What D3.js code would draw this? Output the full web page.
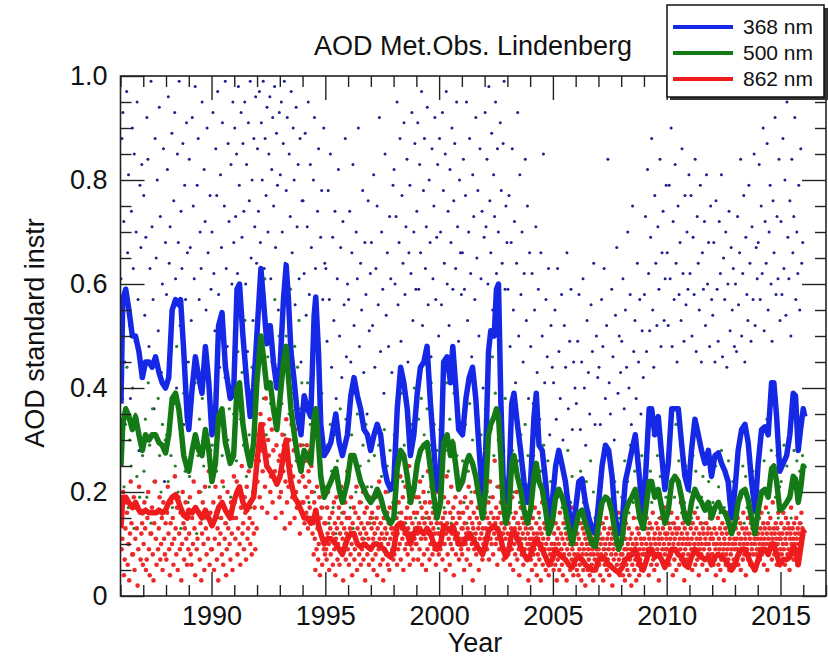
<!DOCTYPE html>
<html>
<head>
<meta charset="utf-8">
<script src="https://cdn.jsdelivr.net/npm/d3@7"></script>
<style>
  body { margin: 0; background: #fff; }
  svg { display: block; font-family: "Liberation Sans", Arial, Helvetica, sans-serif; }
</style>
</head>
<body>
<svg id="chart" width="828" height="658"></svg>
<script>
// smoothed series (year, AOD)
const lineYears = [
  1986.02,1986.10,1986.23,1986.37,1986.52,1986.66,1986.81,1986.96,1987.10,1987.25,1987.39,1987.54,1987.69,1987.83,1987.98,
  1988.12,1988.27,1988.42,1988.56,1988.64,1988.78,1988.93,1989.00,1989.15,1989.29,1989.44,1989.58,1989.73,1989.88,1990.02,
  1990.17,1990.31,1990.46,1990.61,1990.82,1990.97,1991.12,1991.23,1991.38,1991.55,1991.70,1991.85,1991.99,1992.17,1992.28,
  1992.43,1992.58,1992.72,1992.87,1993.01,1993.16,1993.28,1993.38,
  1993.49,1993.64,1993.78,1993.93,1994.07,1994.22,1994.36,1994.51,1994.58,1994.70,1994.80,1994.95,1995.09,1995.24,1995.46,
  1995.61,1995.75,1995.97,1996.12,1996.26,1996.41,1996.55,1996.70,1996.85,1996.99,1997.14,1997.28,1997.43,1997.58,1997.72,
  1997.87,1998.01,1998.16,1998.31,1998.45,1998.60,1998.74,1998.89,1999.04,1999.18,1999.33,1999.47,1999.62,1999.77,1999.91,
  2000.06,2000.20,2000.35,2000.50,2000.60,2000.72,2000.86,
  2001.03,2001.18,2001.32,2001.47,2001.61,2001.76,2001.91,2002.05,2002.17,2002.27,2002.42,2002.52,2002.61,2002.71,2002.81,
  2002.93,2003.07,2003.19,2003.29,2003.44,2003.58,2003.73,2003.88,2004.02,2004.17,2004.27,2004.39,2004.53,2004.68,2004.82,
  2004.97,2005.12,2005.26,2005.41,2005.55,2005.70,2005.85,2005.99,2006.14,2006.28,2006.43,2006.58,2006.72,2006.87,2007.01,
  2007.16,2007.31,2007.45,2007.60,2007.74,2007.89,2008.04,2008.18,2008.33,2008.47,2008.62,
  2008.82,2008.97,2009.12,2009.23,2009.34,2009.48,2009.63,2009.78,2009.92,2010.07,2010.22,2010.36,2010.51,2010.65,2010.80,
  2010.95,2011.09,2011.24,2011.39,2011.53,2011.68,2011.83,2011.97,2012.12,2012.27,2012.41,2012.56,2012.70,2012.85,2013.00,
  2013.14,2013.29,2013.44,2013.58,2013.73,2013.88,2014.02,2014.17,2014.31,2014.46,2014.61,2014.71,2014.83,2014.97,2015.12,
  2015.27,2015.41,2015.56,2015.66,2015.78,2015.88,2016.00,2016.07
];
const aod368 = [
  .37,.57,.59,.55,.50,.50,.47,.42,.45,.45,.44,.46,.43,.41,.40,.42,.55,.57,.56,.57,.47,.345,.32,.40,.46,.42,.39,.48,.41,.31,
  .345,.52,.545,.44,.38,.39,.59,.60,.50,.41,.345,.40,.50,.63,.57,.485,.52,.45,.40,.44,.57,.636,.57,
  .47,.41,.345,.31,.385,.36,.345,.54,.575,.47,.33,.27,.28,.295,.35,.295,.27,.31,.385,.42,.385,.36,.32,.31,.28,.31,.33,.31,
  .25,.22,.205,.22,.36,.44,.41,.36,.27,.31,.39,.44,.45,.48,.37,.28,.205,.24,.45,.46,.41,.48,.41,.32,
  .31,.38,.42,.44,.38,.28,.19,.28,.47,.51,.50,.59,.60,.38,.23,.18,.22,.37,.39,.33,.28,.22,.18,.22,.345,.39,.29,.28,.22,.15,
  .18,.25,.28,.25,.22,.165,.13,.165,.22,.225,.18,.15,.13,.12,.18,.25,.29,.28,.23,.15,.12,.14,.22,.25,.28,.31,
  .22,.15,.27,.36,.36,.31,.345,.27,.205,.255,.36,.36,.36,.295,.23,.205,.28,.34,.31,.28,.255,.28,.23,.27,.275,.255,.24,.22,
  .15,.205,.28,.32,.33,.295,.22,.165,.255,.32,.325,.31,.41,.41,.345,.24,.255,.27,.31,.39,.385,.28,.32,.36,.345
];
const aod500 = [
  .25,.33,.36,.345,.32,.345,.31,.28,.31,.30,.31,.31,.295,.29,.275,.31,.38,.39,.36,.33,.27,.245,.24,.28,.31,.28,.27,.32,.28,.22,
  .255,.345,.36,.295,.255,.27,.40,.41,.33,.28,.25,.295,.41,.50,.46,.40,.41,.36,.32,.38,.45,.48,.42,
  .36,.31,.27,.24,.28,.27,.255,.345,.36,.295,.23,.19,.205,.22,.245,.205,.18,.22,.27,.27,.245,.22,.205,.19,.18,.19,.205,.19,
  .165,.15,.14,.15,.245,.28,.27,.23,.18,.205,.255,.28,.29,.295,.245,.19,.15,.18,.295,.31,.27,.295,.255,.205,
  .22,.255,.27,.255,.23,.19,.15,.205,.31,.33,.345,.36,.345,.27,.18,.14,.165,.255,.27,.23,.205,.165,.14,.165,.23,.255,.22,.205,
  .165,.12,.14,.19,.205,.19,.165,.13,.10,.13,.16,.165,.14,.12,.10,.095,.14,.18,.19,.185,.16,.12,.09,.11,.16,.18,.19,.205,
  .15,.13,.18,.22,.22,.19,.205,.17,.14,.165,.22,.23,.22,.19,.15,.14,.18,.205,.19,.18,.165,.18,.15,.17,.18,.165,.16,.145,
  .12,.14,.18,.20,.205,.185,.15,.12,.165,.20,.205,.19,.245,.25,.22,.165,.17,.18,.19,.23,.225,.18,.205,.25,.245
];
const aod862 = [
  .13,.19,.19,.18,.17,.18,.165,.16,.165,.16,.16,.16,.165,.16,.165,.18,.19,.195,.18,.17,.155,.15,.165,.16,.17,.16,.15,.165,.15,.135,
  .15,.17,.18,.165,.15,.18,.20,.21,.18,.165,.18,.19,.255,.33,.295,.25,.24,.23,.215,.23,.27,.30,.255,
  .22,.19,.18,.165,.15,.15,.14,.15,.165,.135,.12,.10,.11,.11,.10,.09,.08,.11,.12,.12,.10,.095,.10,.095,.09,.10,.10,.095,
  .09,.08,.075,.09,.135,.14,.13,.12,.10,.12,.13,.125,.12,.13,.12,.10,.09,.10,.135,.13,.125,.135,.12,.10,
  .10,.11,.12,.11,.10,.09,.08,.10,.125,.13,.135,.13,.125,.11,.09,.075,.09,.12,.125,.11,.095,.08,.07,.08,.10,.11,.10,.09,
  .075,.06,.07,.09,.08,.075,.07,.06,.055,.07,.075,.07,.06,.055,.05,.05,.07,.075,.07,.06,.055,.05,.045,.055,.07,.075,.08,.09,
  .06,.05,.07,.09,.09,.075,.08,.07,.055,.07,.09,.09,.08,.075,.06,.055,.075,.09,.08,.075,.07,.075,.06,.075,.08,.075,.07,.06,
  .05,.06,.08,.09,.09,.075,.06,.05,.07,.09,.09,.08,.10,.10,.08,.06,.07,.07,.075,.095,.09,.06,.09,.125,.12
];

// single measurements, one row per year, values in hundredths
const dotYears = [1986,1987,1988,1989,1990,1991,1992,1993,1994,1995,1996,1997,1998,1999,2000,
                  2001,2002,2003,2004,2005,2006,2007,2008,2009,2010,2011,2012,2013,2014,2015];
const dots368 = [
  [61,88,93,72,45,58,97,66,81,52,38,74,90,63,85,49,70,95,57,28,79,67,83,42],
  [77,54,69,92,84,48,63,99,71,57,36,88,65,80,51,94,73,43,60,86,22,68],
  [58,82,96,64,71,47,89,55,76,93,61,40,85,68,99,52,74,63,87,33,79,57,91,66,45],
  [84,67,53,92,75,61,98,46,79,88,57,70,63,95,41,82,72,55,90,66,29,77,59],
  [70,93,62,51,86,77,97,58,44,81,67,91,54,75,99,63,48,87,72,38,83,60,95,68],
  [90,73,85,62,98,79,56,93,69,87,74,95,60,83,47,91,76,99,65,80,53,88,71,96,64],
  [86,74,97,68,91,80,99,63,88,77,94,70,85,96,61,82,92,75,98,67,89,79,55,93],
  [81,95,70,87,99,64,78,92,59,85,73,97,66,90,80,56,94,71,83,61,88,45,76],
  [76,62,89,54,71,95,58,83,67,47,80,92,63,52,74,86,41,69,78,57,90,64],
  [63,49,78,57,85,44,69,53,74,38,61,82,50,67,42,72,56,88,46,60],
  [57,74,45,66,83,52,39,70,61,90,48,64,55,78,43,68,58,35,76,51,62],
  [68,52,81,44,63,75,56,92,47,70,59,39,85,54,66,48,73,61,43,79],
  [82,60,73,95,56,68,88,49,77,64,91,58,71,84,45,66,79,62,93,53,70,87,59],
  [74,91,59,83,66,97,52,78,88,63,71,94,56,80,68,46,86,61,75,92,57,69,83,50],
  [88,70,56,93,78,64,85,97,60,74,52,82,68,90,59,76,87,63,95,71,49,80,66,58],
  [66,84,59,77,95,53,70,88,62,46,81,73,57,92,65,78,50,86,61,74,40,69],
  [93,71,84,60,98,76,66,89,55,81,73,95,62,86,70,52,91,78,64,87,99,59,75,68],
  [59,77,48,68,86,55,72,41,64,93,50,81,58,70,45,62,84,53,75,38,66],
  [48,62,37,55,71,43,59,34,66,50,85,41,57,46,63,31,52,44],
  [41,55,34,63,47,38,58,30,52,44,66,36,49,59,32,45,40],
  [37,49,58,32,45,61,40,29,53,43,35,56,47,64,33,50,42],
  [44,33,57,48,63,38,52,84,41,35,59,46,30,54,67,39,50,43],
  [49,61,36,55,44,70,40,58,33,75,47,53,38,64,45,57,35,51,42],
  [58,73,47,82,62,51,69,88,55,44,77,64,52,71,59,84,48,66,74,53,61,79],
  [66,52,79,61,90,48,72,57,83,64,45,75,58,68,53,86,62,49,77,56,70,59,81],
  [62,77,50,69,58,84,47,73,64,55,79,45,66,59,72,52,81,60,68,48,75,57],
  [54,68,45,76,59,49,72,62,81,46,65,57,70,44,60,74,51,67,55,63,48],
  [60,47,73,56,66,84,50,62,77,45,69,58,53,79,64,49,71,57,85,52,67,61],
  [68,83,57,75,62,90,51,72,64,87,55,70,79,60,49,76,66,92,58,73,61,84,53],
  [72,58,88,63,80,54,95,69,61,76,50,84,66,73,92,57,70,62,79,55,86,64,68]
];
const dots500 = [
  [28,38,21,33,44,17,30,25,40,13,35,23,31,19,42,27],
  [24,34,19,41,29,14,36,22,31,11,38,27,20,33,16,30],
  [31,22,43,27,17,37,25,48,20,33,13,29,39,24,35,18],
  [23,36,16,30,41,12,27,34,20,38,25,15,32,44,21,28],
  [29,18,39,24,46,15,33,27,21,42,14,30,36,19,26,35],
  [35,26,47,20,34,43,29,53,23,38,31,17,44,27,40,22],
  [43,55,35,49,38,61,31,46,52,37,45,28,57,41,33,50],
  [47,37,55,31,50,42,35,59,39,30,48,26,44,53,36,41],
  [29,37,21,41,18,33,26,45,20,31,15,36,24,39,17,28],
  [21,29,14,33,24,17,31,12,26,22,36,16,28,19,34,11],
  [23,17,31,13,27,20,35,15,25,18,29,11,33,21,26,14],
  [21,15,27,12,19,29,14,23,17,32,11,25,20,28,13,18],
  [31,19,36,16,27,39,22,29,14,34,18,25,33,21,40,15],
  [26,34,18,38,23,31,15,36,20,29,41,17,33,24,28,13],
  [32,21,37,17,28,41,24,34,14,30,39,19,27,36,22,16],
  [26,18,33,14,24,37,20,30,12,35,22,17,28,31,15,25],
  [36,25,41,19,32,46,27,39,21,30,43,23,35,28,38,17],
  [23,31,16,28,20,36,14,26,18,31,11,24,33,19,27,13],
  [19,13,27,10,23,31,15,24,12,29,17,21,26,14,22,9],
  [15,22,11,19,26,9,17,24,13,21,28,12,18,23,10,16],
  [13,19,9,24,14,18,11,22,8,16,26,12,20,15,10,17],
  [17,11,23,14,27,9,19,13,25,10,16,22,12,20,15,8],
  [19,14,26,11,22,16,29,12,18,24,9,15,21,13,27,17],
  [21,16,28,13,24,18,31,11,20,27,15,23,17,25,12,19],
  [24,17,30,14,22,19,33,13,26,20,16,28,18,25,11,21],
  [20,15,27,12,24,17,30,11,19,23,14,26,18,22,13,25],
  [18,13,25,10,21,16,28,12,17,23,14,26,19,15,22,11],
  [21,15,27,11,19,25,14,23,17,29,12,20,24,16,22,13],
  [23,18,30,14,26,20,34,16,22,28,13,25,19,27,15,21],
  [22,17,29,13,25,19,32,15,21,28,12,26,18,24,14,27]
];
const dots862 = [
  [15,9,11,20,4,7,13,18,16,6,10,3,12,22,14,8,8,19,5,11,17,13,2,9,21,16,7,12,14,6],
  [10,18,13,5,7,15,20,9,4,12,12,17,8,3,14,22,11,6,16,9,13,19,7,10,15,5,18,11,8,14],
  [7,16,21,12,9,4,14,18,10,15,6,11,23,13,8,17,5,19,12,9,16,3,10,20,14,7,13,18,11,6,15,9],
  [12,19,8,6,15,10,22,13,4,17,9,11,16,20,7,14,3,12,18,10,5,21,13,8,15,11,24,6,16,9],
  [9,14,18,5,11,21,16,7,13,3,10,19,12,15,8,22,6,17,11,14,4,9,20,13,16,10,7,18,12,5,15,23],
  [18,11,15,22,8,13,20,10,6,17,25,12,14,9,19,16,7,21,11,13,24,15,10,18,8,14,20,12,17,9,26,13],
  [22,31,26,19,35,28,17,24,33,29,21,38,25,16,30,27,34,20,23,32,18,28,36,24,15,29,22,33,26,19],
  [27,20,16,31,24,29,13,22,34,18,26,21,30,14,25,33,19,23,28,15,32,20,17,26,35,22,12,29,24,18],
  [23,18,27,14,21,26,16,29,19,13,24,22,17,28,15,25,20,12,14,8,18,11,5,16,9,21,13,7,10,19,4,15,12,17,6,11,20,9,14,8],
  [14,9,7,17,12,20,10,5,15,13,8,22,11,16,6,12,18,9,14,4,11,19,13,7,10,15,17,6,12,9,21,14,8,11,3,16,13,10,18,7,12,15,24,9],
  [11,6,15,13,8,19,10,4,14,12,17,7,9,16,11,21,5,13,10,15,8,18,12,6,14,9,11,20,7,13,16,3,10,12,17,8,14,11,6,19,9,15],
  [9,13,16,7,11,5,14,12,19,8,10,15,4,13,17,9,22,11,6,14,10,12,18,7,3,15,11,9,13,20,8,12,16,6,10,14,5,17,11,8,13,21,9,12,7],
  [13,8,17,11,20,15,6,12,9,18,14,10,23,7,16,13,11,19,5,14,12,9,21,15,10,17,8,13,25,11,6,15,12,18,9,14,20,7,16,11,13,10,19],
  [10,16,12,7,19,14,9,22,13,11,17,6,15,12,20,8,14,18,11,5,16,13,9,24,12,15,7,18,10,14,21,11,8,16,13,19,9,12,15,6,17,14,10,20,12,8],
  [12,17,9,14,20,11,7,15,13,19,10,16,5,12,23,14,8,18,11,13,6,16,10,21,12,9,15,17,4,13,11,19,8,14,24,10,12,16,7,15,11,18,9,13],
  [8,13,16,11,5,14,19,10,12,7,17,13,9,21,11,15,6,12,18,10,14,3,13,16,9,11,20,12,8,15,10,17,13,5,14,11,22,9,12,16,7,13,10,15,11],
  [16,11,13,20,9,15,12,18,7,14,22,11,16,10,13,19,8,15,12,26,14,10,17,11,6,15,13,21,9,16,12,18,14,10,23,12,7,17,13,15,11,19,9,14],
  [12,8,14,10,17,6,11,13,9,19,12,5,15,10,13,8,16,11,20,7,12,14,9,4,13,11,17,10,8,15,12,6,14,18,9,11,13,7,16,10,12,3,14,9,11],
  [10,7,13,5,11,15,8,12,9,17,6,10,14,4,12,8,11,16,7,13,9,3,12,10,18,6,11,8,14,9,13,5,10,15,7,12,11,4,9,14,8,13,6,10,16,9],
  [8,5,12,10,6,14,9,3,11,7,13,10,5,16,8,12,9,6,11,4,14,8,10,7,15,12,3,9,11,6,13,8,10,5,12,17,7,9,11,4,13,8,10,6],
  [7,10,5,12,8,4,11,9,6,14,7,3,10,8,13,5,9,12,6,2,11,8,10,15,5,9,7,12,4,10,8,13,6,9,11,3,8,12,7,10,5,14,9,6,8,11],
  [9,6,12,4,10,8,14,7,11,3,9,13,6,10,8,15,5,11,7,12,9,4,10,13,6,8,11,2,12,9,7,14,10,5,8,11,6,13,9,16,7,10,4,12,8],
  [6,10,8,4,12,7,9,3,11,14,6,9,5,10,8,13,4,7,11,9,2,12,6,10,8,15,5,9,7,11,3,10,13,6,8,12,4,9,7,11,5,10,8,14,6,9],
  [11,8,6,13,10,15,7,9,12,4,11,14,8,10,6,13,9,16,7,11,5,12,10,8,14,6,9,13,11,3,10,12,8,15,7,11,9,13,6,10,17,8,12,9,11],
  [9,12,7,14,10,6,13,11,8,16,9,12,4,10,14,7,11,13,9,5,12,15,8,10,13,6,11,9,18,7,12,10,14,8,11,3,13,9,16,10,7,12,11,8,14,10],
  [10,7,13,9,11,5,14,8,12,10,16,6,9,13,11,7,15,10,4,12,9,11,14,8,10,6,13,12,9,17,7,11,10,14,5,12,8,13,10,9,15,11,6,12,8],
  [8,11,6,10,13,7,9,4,12,10,8,15,6,11,9,13,5,10,7,12,14,8,9,3,11,10,13,6,8,12,9,16,7,10,5,11,13,8,9,12,6,10,14,7,11,9],
  [10,13,7,11,9,15,6,12,8,10,14,5,11,9,13,7,16,10,8,12,11,4,13,9,10,15,7,12,8,11,6,14,10,9,13,8,12,5,11,10,17,8,12,9,11],
  [12,9,15,10,7,13,11,16,8,12,10,14,6,11,13,9,17,10,12,5,14,11,8,13,10,15,9,12,7,11,18,10,13,8,12,9,14,11,6,13,10,16,8,12,11,9],
  [11,14,8,12,10,16,9,13,6,11,15,10,12,8,14,9,13,5,11,12,17,10,8,13,11,7,14,10,12,9,15,11,6,13,10,12,8,14,9,11,16,10,13,12]
];

const seriesNames = ["368 nm", "500 nm", "862 nm"];
const xTickYears = [1990, 1995, 2000, 2005, 2010, 2015];
const yTickValues = [0, 0.2, 0.4, 0.6, 0.8, 1.0];
const yTickLabels = ["0", "0.2", "0.4", "0.6", "0.8", "1.0"];

const lineColors = ["#1428e6", "#137a16", "#ee1c1c"];
const dotColors = ["#20208e", "#2a7d2a", "#ec2a2a"];
const dotRadius = [1.5, 1.6, 2.3];

const svg = d3.select("#chart");
const plotLeft = 120.5, plotRight = 826, plotTop = 76, plotBottom = 596;

const x = d3.scaleLinear().domain([1986, 2017]).range([plotLeft, plotRight]);
const y = d3.scaleLinear().domain([0, 1]).range([plotBottom, plotTop]);

svg.append("defs").append("clipPath").attr("id", "clip")
  .append("rect")
  .attr("x", plotLeft).attr("y", plotTop)
  .attr("width", plotRight - plotLeft).attr("height", plotBottom - plotTop);

const plot = svg.append("g").attr("clip-path", "url(#clip)");

//spread the samples of each year over that year
function toPoints(rows) {
  const out = [];
  rows.forEach((row, k) => {
    row.forEach((v, i) => out.push([dotYears[k] + (i + 0.5) / row.length, v / 100]));
  });
  return out;
}

[dots368, dots500, dots862].forEach((rows, s) => {
  plot.append("g")
    .selectAll("circle")
    .data(toPoints(rows))
    .join("circle")
    .attr("cx", d => x(d[0]))
    .attr("cy", d => y(d[1]))
    .attr("r", dotRadius[s])
    .attr("fill", dotColors[s]);
});

const line = d3.line()
  .x(d => x(d[0]))
  .y(d => y(d[1]));

[aod368, aod500, aod862].forEach((vals, s) => {
  const pts = lineYears.map((t, i) => [t, vals[i]]).filter(d => d[1] !== undefined);
  plot.append("path")
    .datum(pts)
    .attr("d", line)
    .attr("fill", "none")
    .attr("stroke", lineColors[s])
    .attr("stroke-width", 5.5)
    .attr("stroke-linejoin", "round");
});

//Axes with inward ticks
const fontSize = 27;
const minorYears = x.ticks(31).filter(d => d % 5 !== 0);
const minorY = y.ticks(20).filter(d => Math.round(d * 100) % 20 !== 0);

function styleAxis(g) {
  g.select(".domain").remove();
  g.selectAll("line").attr("stroke", "#222").attr("stroke-width", 1.4);
  g.selectAll("text").attr("fill", "#111").attr("font-size", fontSize)
    .attr("font-family", "'Liberation Sans', Arial, sans-serif");
}

svg.append("g").attr("transform", `translate(0,${plotBottom})`)
  .call(d3.axisBottom(x).tickValues(xTickYears).tickFormat(d3.format("d"))
    .tickSizeInner(-24).tickSizeOuter(0).tickPadding(10))
  .call(styleAxis);
svg.append("g").attr("transform", `translate(0,${plotBottom})`)
  .call(d3.axisBottom(x).tickValues(minorYears).tickFormat("").tickSize(-11))
  .call(styleAxis);
svg.append("g").attr("transform", `translate(0,${plotTop})`)
  .call(d3.axisTop(x).tickValues(xTickYears).tickFormat("").tickSize(-24))
  .call(styleAxis);
svg.append("g").attr("transform", `translate(0,${plotTop})`)
  .call(d3.axisTop(x).tickValues(minorYears).tickFormat("").tickSize(-11))
  .call(styleAxis);

svg.append("g").attr("transform", `translate(${plotLeft},0)`)
  .call(d3.axisLeft(y).tickValues(yTickValues).tickFormat((d, i) => yTickLabels[i])
    .tickSizeInner(-24).tickSizeOuter(0).tickPadding(13))
  .call(styleAxis);
svg.append("g").attr("transform", `translate(${plotLeft},0)`)
  .call(d3.axisLeft(y).tickValues(minorY).tickFormat("").tickSize(-11))
  .call(styleAxis);
svg.append("g").attr("transform", `translate(${plotRight},0)`)
  .call(d3.axisRight(y).tickValues(yTickValues).tickFormat("").tickSize(-24))
  .call(styleAxis);
svg.append("g").attr("transform", `translate(${plotRight},0)`)
  .call(d3.axisRight(y).tickValues(minorY).tickFormat("").tickSize(-11))
  .call(styleAxis);

//frame
svg.append("rect")
  .attr("x", plotLeft).attr("y", plotTop)
  .attr("width", plotRight - plotLeft).attr("height", plotBottom - plotTop)
  .attr("fill", "none").attr("stroke", "#222").attr("stroke-width", 1.6);

//Titles
svg.append("text")
  .attr("x", 473).attr("y", 55)
  .attr("text-anchor", "middle")
  .attr("font-size", fontSize).attr("fill", "#111")
  .text("AOD Met.Obs. Lindenberg");
svg.append("text")
  .attr("x", 475).attr("y", 652)
  .attr("text-anchor", "middle")
  .attr("font-size", fontSize).attr("fill", "#111")
  .text("Year");
svg.append("text")
  .attr("transform", "translate(44,333) rotate(-90)")
  .attr("text-anchor", "middle")
  .attr("font-size", fontSize).attr("fill", "#111")
  .text("AOD standard instr");

//Legend
const legend = svg.append("g");
legend.append("rect")
  .attr("x", 670).attr("y", 8).attr("width", 158).attr("height", 92)
  .attr("fill", "#333");
legend.append("rect")
  .attr("x", 667).attr("y", 5).attr("width", 157).attr("height", 92)
  .attr("fill", "#fff").attr("stroke", "#111").attr("stroke-width", 1.5);
seriesNames.forEach((name, i) => {
  const ly = 27 + i * 26;
  legend.append("line")
    .attr("x1", 673).attr("x2", 733).attr("y1", ly).attr("y2", ly)
    .attr("stroke", lineColors[i]).attr("stroke-width", 4);
  legend.append("text")
    .attr("x", 743).attr("y", ly + 7)
    .attr("font-size", 21).attr("fill", "#111")
    .text(name);
});
</script>
</body>
</html>
